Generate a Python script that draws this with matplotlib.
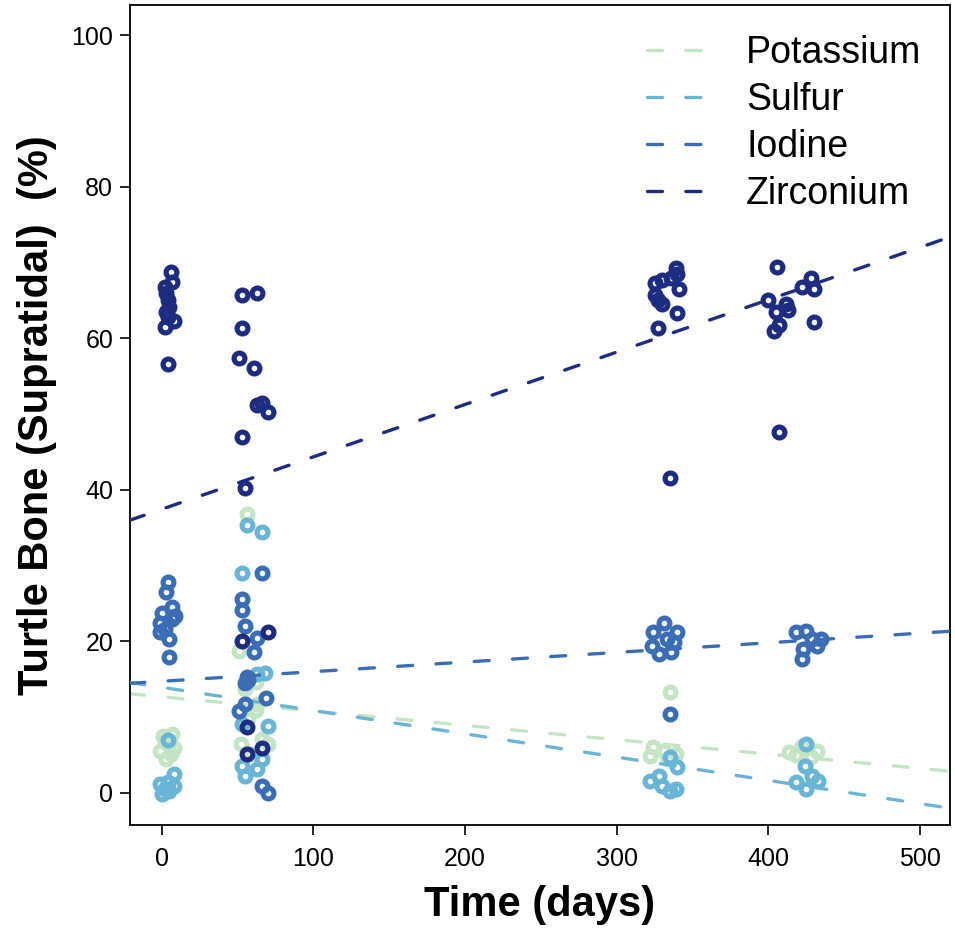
import matplotlib.pyplot as plt
import numpy as np

plt.rcParams['font.family'] = ['Liberation Sans', 'DejaVu Sans']

# element names and colours
elements = ["Potassium", "Sulfur", "Iodine", "Zirconium"]
colors = ["#C4E5C3", "#6AB4D6", "#3B6DB4", "#1D2C80"]

# fitted lines (intercept, slope per day)
intercepts = [12.7, 13.95, 14.74, 37.45]
slopes = [-0.0189, -0.0307, 0.0127, 0.0691]

# measurements: time (days) and percentage
potassium_days = [1, 7, 4, -1, 6, 3, 8, 2,
                  56, 55, 63, 57, 66, 52, 70, 59, 62, 51, 62,
                  335, 324, 331, 339, 322, 334,
                  422, 432, 414, 428, 418]
potassium_vals = [7.5, 7.8, 6.5, 5.5, 5.1, 4.5, 6.0, 6.8,
                  36.8, 13.7, 11.7, 9.7, 7.1, 6.5, 6.5, 5.1, 11.0, 18.7, 14.6,
                  13.3, 6.1, 5.5, 5.1, 4.9, 4.5,
                  6.2, 5.5, 5.4, 4.8, 5.0]

sulfur_days = [4, 8, -1, 2, 5, 8, 0, 4,
               56, 66, 53, 63, 68, 53, 70, 53, 55, 63, 66,
               335, 328, 322, 330, 339, 335, 340,
               425, 424, 418, 433, 425, 429]
sulfur_vals = [7.0, 2.5, 1.2, 0.5, 0.3, 0.9, -0.1, 1.5,
               35.4, 34.5, 29.0, 15.7, 15.9, 9.1, 8.8, 3.6, 2.2, 3.2, 4.5,
               4.7, 2.2, 1.6, 0.9, 0.5, 0.3, 3.4,
               6.4, 3.6, 1.4, 1.6, 0.5, 2.2]

iodine_days = [4, 3, 0, 7, -1, 7, -1, 5, 9, 2, 5,
               66, 53, 53, 55, 63, 61, 56, 55, 51, 69, 55, 66, 70, 57,
               331, 324, 340, 323, 328, 336, 333, 338, 335,
               425, 418, 429, 435, 423, 422, 432]
iodine_vals = [27.9, 26.5, 23.8, 24.6, 22.5, 22.9, 21.2, 20.3, 23.3, 21.6, 17.9,
               29.0, 25.6, 24.2, 22.0, 20.5, 18.6, 15.3, 11.7, 10.8, 12.5, 14.5, 0.9, 0.0, 14.9,
               22.5, 21.2, 21.3, 19.4, 18.3, 18.6, 20.3, 19.9, 10.4,
               21.4, 21.2, 20.3, 20.3, 19.0, 17.7, 19.4]

zirconium_days = [2, 6, 7, 3, 4, 5, 3, 4, 2, 8, 4,
                  53, 63, 53, 51, 61, 63, 66, 70, 53, 55, 53, 70, 56, 56, 66,
                  325, 330, 336, 339, 340, 325, 327, 330, 341, 327, 340, 335,
                  406, 400, 405, 412, 422, 428, 430, 430, 404, 407, 407, 413]
zirconium_vals = [66.8, 68.7, 67.5, 66.0, 65.0, 64.2, 63.5, 62.8, 61.5, 62.3, 56.6,
                  65.7, 66.0, 61.4, 57.4, 56.1, 51.2, 51.5, 50.3, 47.0, 40.3, 20.0, 21.2, 8.7, 5.1, 5.9,
                  67.3, 67.7, 68.0, 69.3, 68.5, 65.7, 65.0, 64.5, 66.5, 61.4, 63.3, 41.6,
                  69.4, 65.1, 63.5, 64.5, 66.8, 68.0, 66.5, 62.2, 61.0, 61.8, 47.6, 63.8]

all_days = [potassium_days, sulfur_days, iodine_days, zirconium_days]
all_vals = [potassium_vals, sulfur_vals, iodine_vals, zirconium_vals]

xlim = (-21, 520)
ylim = (-4.2, 104)

fig = plt.figure(figsize=(9.55, 9.32), dpi=100)
ax = fig.add_axes([0.136, 0.115, 0.859, 0.8797])

xx = np.array(xlim)
for i, name in enumerate(elements):
    ax.plot(all_days[i], all_vals[i], linestyle='none', marker='o', ms=7.8, mew=3.7,
            mfc='none', mec=colors[i], zorder=2 + i)
    ax.plot(xx, intercepts[i] + slopes[i] * xx, color=colors[i], lw=2.4,
            dashes=(4.5, 7.0), dash_capstyle='round', label=name, zorder=2 + i)

ax.set_xlim(xlim)
ax.set_ylim(ylim)
ax.set_xticks([0, 100, 200, 300, 400, 500])
ax.set_yticks([0, 20, 40, 60, 80, 100])
ax.tick_params(labelsize=18, length=7, width=1.2, direction='out')
ax.tick_params(axis='x', pad=9)
ax.tick_params(axis='y', pad=5)
for s in ax.spines.values():
    s.set_linewidth(1.3)

ax.set_xlabel("Time (days)", fontsize=30, fontweight='bold', labelpad=10)
ax.set_ylabel("Turtle Bone (Supratidal)  (%)", fontsize=30, fontweight='bold', labelpad=10)

ax.legend(loc='upper right', bbox_to_anchor=(1.006, 1.004), frameon=False, fontsize=27,
          handlelength=1.85, handletextpad=0.8, labelspacing=0.29)

plt.savefig('out.png', dpi=100)
